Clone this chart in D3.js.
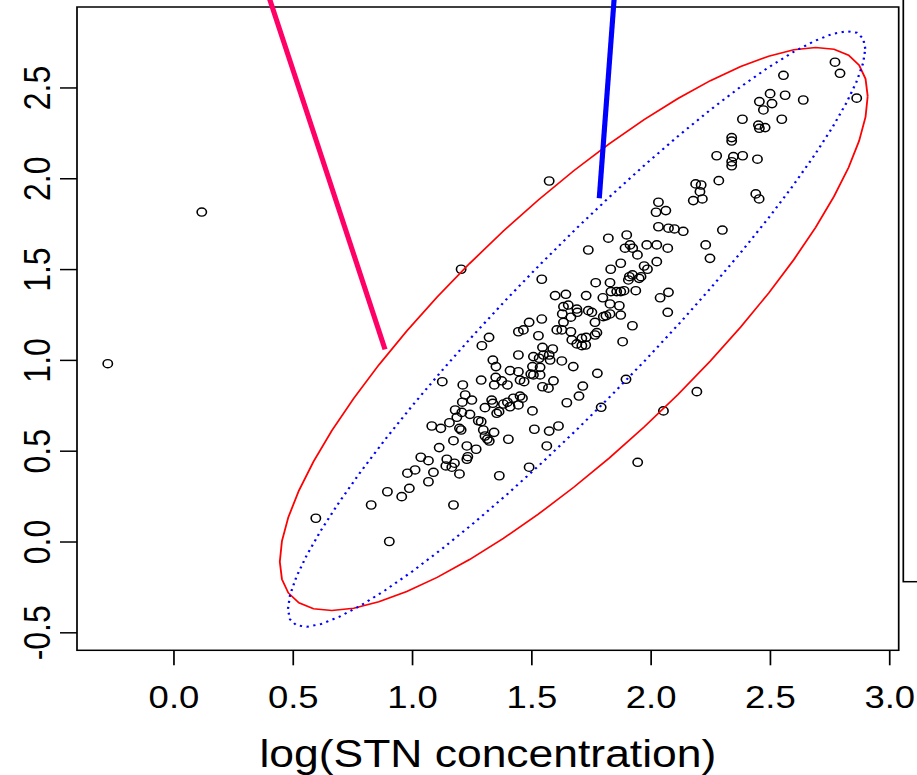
<!DOCTYPE html>
<html lang="en">
<head>
<meta charset="UTF-8">
<title>log(STN concentration) scatter with data ellipses</title>
<script src="https://d3js.org/d3.v7.min.js"></script>
<style>
  body { margin: 0; background: #fff; }
  svg { display: block; }
  text { font-family: "Liberation Sans", Arial, sans-serif; fill: #000; }
</style>
</head>
<body>

<div id="chart"></div>

<script>

// observations: x = log(STN concentration), y = paired log value
var logSTN = [
  2.773,2.794,2.557,2.864,2.501,2.564,2.640,2.456,2.509,2.473,
  2.385,2.550,2.452,2.456,2.480,2.340,2.340,2.277,2.347,2.340,
  2.340,2.386,2.448,2.286,2.189,2.212,2.207,2.179,2.217,2.441,
  2.455,2.033,2.023,2.064,2.033,2.075,2.100,2.137,2.301,2.231,
  1.984,2.026,2.072,2.249,
  1.823,1.900,1.739,1.893,1.914,1.925,1.945,1.575,
  1.875,1.973,1.987,2.026,1.833,1.544,1.770,1.830,1.911,1.924,
  1.960,1.907,1.952,1.834,1.858,1.875,1.889,1.938,1.600,1.645,
  1.730,1.800,2.040,2.075,1.830,1.869,1.635,1.655,1.691,1.630,
  1.693,1.739,1.754,1.666,1.544,1.635,1.813,1.830,1.802,1.875,
  1.767,1.491,2.072,1.607,1.628,1.666,1.467,1.446,1.530,1.775,
  1.767,1.924,1.670,1.712,1.730,1.691,1.712,1.728,1.883,1.547,
  1.590,1.446,1.509,1.533,1.551,1.575,1.579,1.628,1.505,1.537,
  1.676,1.777,1.716,1.897,1.700,
  1.127,1.213,1.290,1.351,1.345,1.376,1.400,1.411,1.453,1.470,
  1.446,1.498,1.509,1.537,1.547,1.572,1.593,1.223,1.211,1.251,
  1.334,1.339,1.306,1.383,1.400,1.411,1.425,1.453,1.463,1.446,
  1.649,1.181,1.209,1.243,1.188,1.355,1.365,1.505,1.157,1.083,
  1.121,1.278,1.290,1.199,1.206,1.299,1.344,1.513,1.575,1.614,
  1.306,1.316,1.324,1.404,1.174,1.114,1.230,1.269,1.565,1.037,
  1.069,1.146,1.178,1.234,1.230,1.142,1.167,1.013,0.981,1.090,
  1.199,1.366,1.491,1.069,0.989,0.957,1.174,
  1.206,1.323,1.293,1.339,1.352,0.829,0.897,1.793,1.946,0.905,
  0.597,0.119,-0.275,2.194,2.054
];
var yVal = [
  2.639,2.578,2.567,2.441,2.466,2.457,2.431,2.422,2.411,2.376,
  2.325,2.325,2.293,2.275,2.279,2.224,2.205,2.124,2.119,2.091,
  2.069,2.124,2.105,1.987,1.969,1.963,1.926,1.877,1.886,1.914,
  1.886,1.868,1.813,1.822,1.733,1.725,1.721,1.708,1.715,1.633,
  1.633,1.633,1.615,1.559,
  1.670,1.688,1.605,1.615,1.633,1.615,1.578,1.985,
  1.532,1.517,1.499,1.541,1.499,1.444,1.425,1.425,1.458,1.468,
  1.458,1.440,1.449,1.376,1.376,1.376,1.381,1.381,1.354,1.361,
  1.354,1.342,1.342,1.372,1.308,1.298,1.293,1.302,1.280,1.253,
  1.262,1.271,1.262,1.235,1.225,1.207,1.243,1.253,1.238,1.247,
  1.207,1.207,1.262,1.165,1.165,1.155,1.165,1.155,1.133,1.150,
  1.137,1.188,1.110,1.119,1.124,1.088,1.078,1.082,1.100,1.069,
  1.060,1.027,1.018,1.009,1.027,1.027,0.999,0.994,0.963,0.959,
  0.963,0.926,0.856,0.893,0.801,
  0.880,0.862,0.889,0.904,0.862,0.885,0.862,0.941,0.889,0.880,
  0.935,0.922,0.917,0.917,0.852,0.844,0.885,0.807,0.767,0.779,
  0.779,0.761,0.737,0.757,0.767,0.742,0.789,0.801,0.789,0.752,
  0.764,0.724,0.711,0.700,0.684,0.706,0.715,0.719,0.654,0.636,
  0.623,0.665,0.660,0.623,0.614,0.614,0.601,0.618,0.608,0.636,
  0.581,0.564,0.553,0.563,0.555,0.517,0.526,0.508,0.526,0.464,
  0.445,0.453,0.431,0.467,0.453,0.416,0.409,0.394,0.376,0.381,
  0.372,0.362,0.409,0.329,0.293,0.247,0.201,
  1.499,1.124,1.078,0.999,0.963,0.201,0.274,0.739,0.436,0.000,
  0.128,1.814,0.979,0.825,0.719
];

var xTicks = [0, 0.5, 1, 1.5, 2, 2.5, 3];
var yTicks = [-0.5, 0, 0.5, 1, 1.5, 2, 2.5];

// data ellipses: centre, sd of x and y, correlation
var redCentre = [1.678, 1.17], redSd = [1.232, 1.55], redCor = 0.827;
var blueCentre = [1.69, 1.17], blueSd = [1.21, 1.64], blueCor = 0.941;

// the two thick annotation lines
var pinkLine = [[0.40, 3.0], [0.887, 1.058]];
var blueLine = [[1.848, 3.0], [1.785, 1.890]];

var width = 917, height = 775;
// the original picture is a bit wider than tall, stretch it the same way
var stretch = 1.14;
var vbW = width / stretch;

var svg = d3.select("#chart").append("svg")
    .attr("width", width)
    .attr("height", height)
    .attr("viewBox", "0 0 " + vbW + " " + height)
    .attr("preserveAspectRatio", "none");

var x = d3.scaleLinear()
    .domain([-0.404, 3.04])
    .range([77 / stretch, 898.7 / stretch]);

var y = d3.scaleLinear()
    .domain([-0.599, 2.943])
    .range([650.3, 7]);

var line = d3.line()
    .x(function(d) { return x(d[0]); })
    .y(function(d) { return y(d[1]); });

function ellipse(c, sd, r) {
  var pts = [];
  for (var i = 0; i <= 52; i++) {
    var t = i / 52 * 2 * Math.PI;
    pts.push([c[0] + sd[0] * Math.cos(t),
              c[1] + sd[1] * (r * Math.cos(t) + Math.sqrt(1 - r * r) * Math.sin(t))]);
  }
  return pts;
}

// legend box, cut off by the right edge
svg.append("rect")
    .attr("x", 903.3 / stretch)
    .attr("y", -10)
    .attr("width", 40)
    .attr("height", 591.7)
    .attr("fill", "none")
    .attr("stroke", "#000")
    .attr("stroke-width", 1.5);

// x axis
var xAxis = svg.append("g")
    .attr("transform", "translate(0," + y.range()[0] + ")")
    .call(d3.axisBottom(x).tickValues(xTicks).tickSize(15)
      .tickFormat(function(d) { return d.toFixed(1); }));
xAxis.select(".domain").remove();
xAxis.selectAll("line").attr("stroke-width", 1.5);
xAxis.selectAll("text")
    .attr("y", 58)
    .attr("dy", null)
    .style("font-size", "32px")
    .style("font-family", "'Liberation Sans', Arial, sans-serif");

// y axis
var yAxis = svg.append("g")
    .attr("transform", "translate(" + x.range()[0] + ",0)")
    .call(d3.axisLeft(y).tickValues(yTicks).tickSize(17 / stretch)
      .tickFormat(function(d) { return d.toFixed(1); }));
yAxis.select(".domain").remove();
yAxis.selectAll("line").attr("stroke-width", 1.5);
yAxis.selectAll("text")
    .attr("x", null)
    .attr("dy", null)
    .attr("text-anchor", "middle")
    .attr("transform", "translate(" + (-27 / stretch) + ",0) rotate(-90)")
    .style("font-size", "32px")
    .style("font-family", "'Liberation Sans', Arial, sans-serif");

// axis title
svg.append("text")
    .attr("x", (x.range()[0] + x.range()[1]) / 2)
    .attr("y", 766.7)
    .attr("text-anchor", "middle")
    .style("font-size", "39px")
    .text("log(STN concentration)");

// plot box
svg.append("rect")
    .attr("x", x.range()[0])
    .attr("y", y.range()[1])
    .attr("width", x.range()[1] - x.range()[0])
    .attr("height", y.range()[0] - y.range()[1])
    .attr("fill", "none")
    .attr("stroke", "#000")
    .attr("stroke-width", 1.5);

// points
svg.append("g").selectAll("circle")
    .data(d3.range(logSTN.length))
  .enter().append("circle")
    .attr("cx", function(i) { return x(logSTN[i]); })
    .attr("cy", function(i) { return y(yVal[i]); })
    .attr("r", 4.1)
    .attr("fill", "none")
    .attr("stroke", "#000")
    .attr("stroke-width", 1.4);

// red solid ellipse
svg.append("path")
    .datum(ellipse(redCentre, redSd, redCor))
    .attr("d", line)
    .attr("fill", "none")
    .attr("stroke", "#ff0000")
    .attr("stroke-width", 1.6);

// blue dotted ellipse
svg.append("path")
    .datum(ellipse(blueCentre, blueSd, blueCor))
    .attr("d", line)
    .attr("fill", "none")
    .attr("stroke", "#0000ff")
    .attr("stroke-width", 2)
    .attr("stroke-dasharray", "2,4");

// thick lines
svg.append("path")
    .datum(pinkLine)
    .attr("d", line)
    .attr("stroke", "#ff0066")
    .attr("stroke-width", 4.5);

svg.append("path")
    .datum(blueLine)
    .attr("d", line)
    .attr("stroke", "#0000ff")
    .attr("stroke-width", 4.5);

</script>

</body>
</html>
